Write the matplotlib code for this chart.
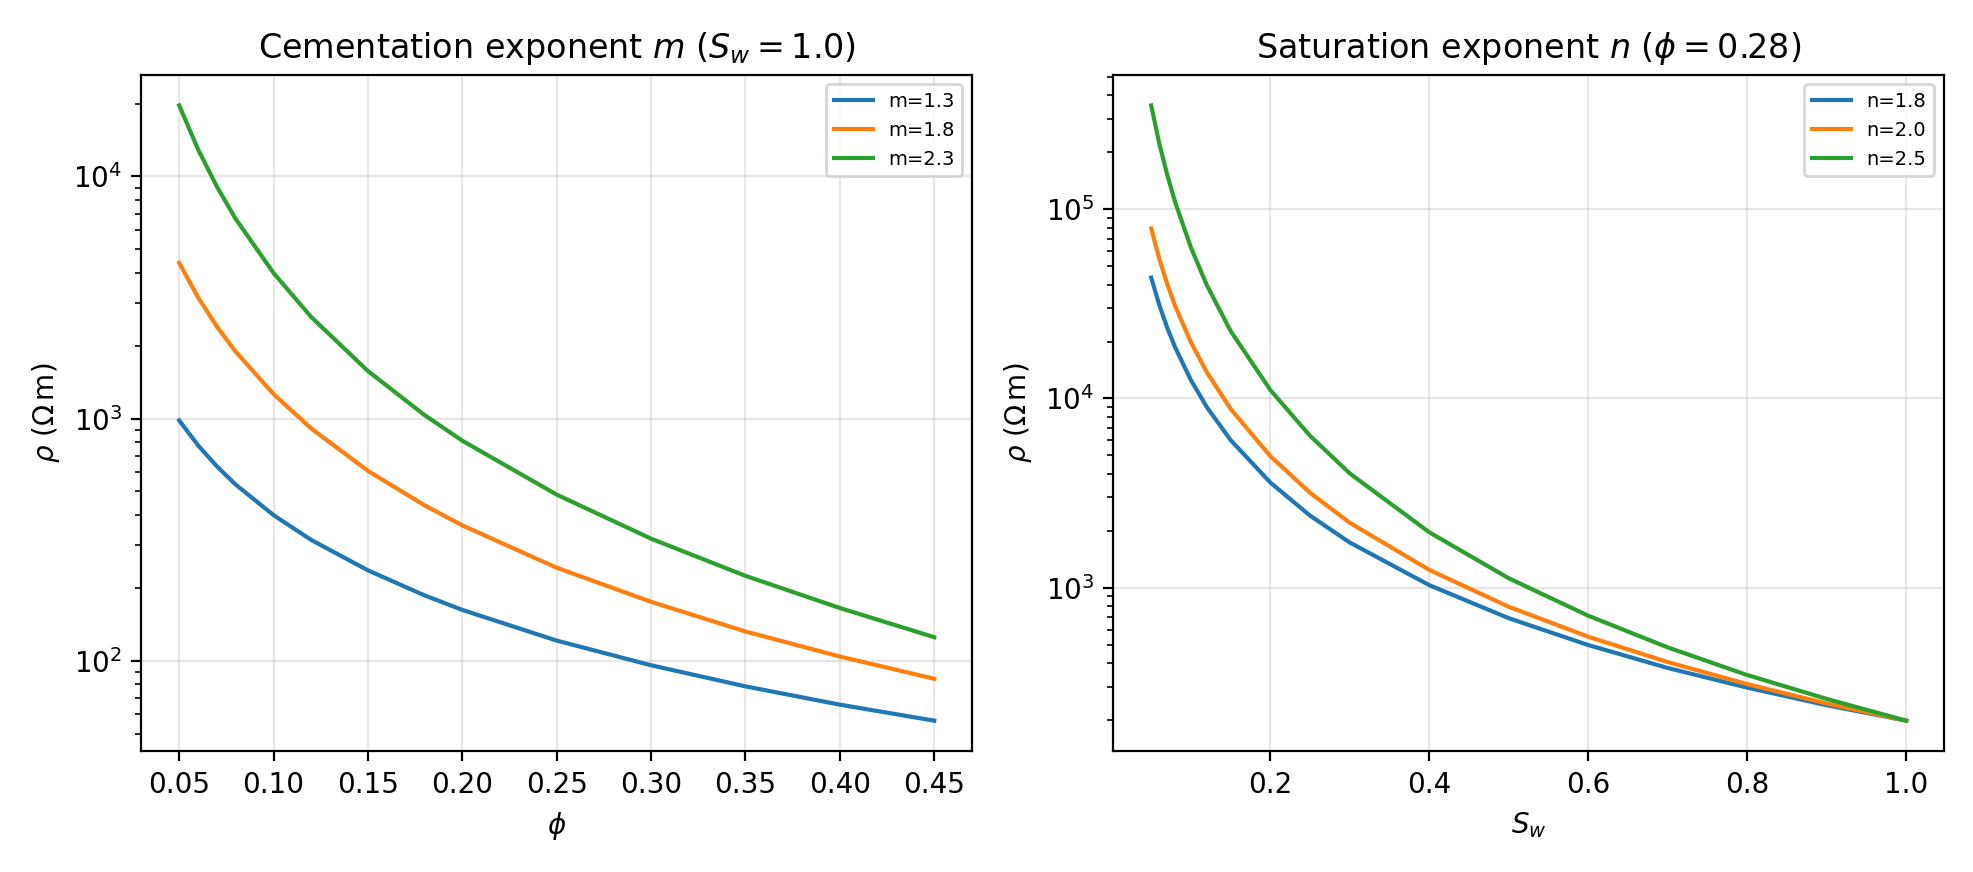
import matplotlib
matplotlib.use('Agg')
import matplotlib.pyplot as plt

# values
phi = [0.05, 0.06, 0.07, 0.08, 0.10, 0.12, 0.15, 0.18, 0.20, 0.25, 0.30, 0.35, 0.40, 0.45]
rho_m13 = [982, 775, 634, 533, 399, 315, 236, 186, 162, 121, 95.7, 78.3, 65.8, 56.5]
rho_m18 = [4394, 3165, 2397, 1885, 1262, 909, 608, 438, 362, 242, 175, 132, 104, 84.2]
rho_m23 = [19650, 12920, 9064, 6665, 3990, 2623, 1571, 1033, 810, 485, 319, 224, 165, 125]

sw = [0.05, 0.06, 0.07, 0.08, 0.10, 0.12, 0.15, 0.2, 0.25, 0.3, 0.4, 0.5, 0.6, 0.7, 0.8, 0.9, 1.0]
rho_n18 = [43500, 31360, 23740, 18670, 12490, 9000, 6020, 3590, 2400, 1730, 1030, 689, 497, 376, 296, 239, 198]
rho_n20 = [79200, 55000, 40400, 30900, 19800, 13750, 8800, 4950, 3170, 2200, 1240, 792, 550, 404, 309, 244, 198]
rho_n25 = [354000, 224000, 153000, 109500, 62700, 39700, 22700, 11070, 6340, 4010, 1960, 1120, 710, 483, 345, 258, 198]

fig, (ax1, ax2) = plt.subplots(1, 2, figsize=(9.87, 4.36), dpi=200)

ax1.plot(phi, rho_m13, label='m=1.3')
ax1.plot(phi, rho_m18, label='m=1.8')
ax1.plot(phi, rho_m23, label='m=2.3')
ax1.set_yscale('log')
ax1.set_title(r'Cementation exponent $m$ ($S_w=1.0$)')
ax1.set_xlabel(r'$\phi$')
ax1.set_ylabel(r'$\rho$ ($\Omega\,$m)')
ax1.set_xticks([0.05, 0.10, 0.15, 0.20, 0.25, 0.30, 0.35, 0.40, 0.45])
ax1.grid(alpha=0.3)
ax1.legend(fontsize=7)

ax2.plot(sw, rho_n18, label='n=1.8')
ax2.plot(sw, rho_n20, label='n=2.0')
ax2.plot(sw, rho_n25, label='n=2.5')
ax2.set_yscale('log')
ax2.set_title(r'Saturation exponent $n$ ($\phi=0.28$)')
ax2.set_xlabel(r'$S_w$')
ax2.set_ylabel(r'$\rho$ ($\Omega\,$m)')
ax2.grid(alpha=0.3)
ax2.legend(fontsize=7)

plt.tight_layout()
plt.savefig('out.png')
